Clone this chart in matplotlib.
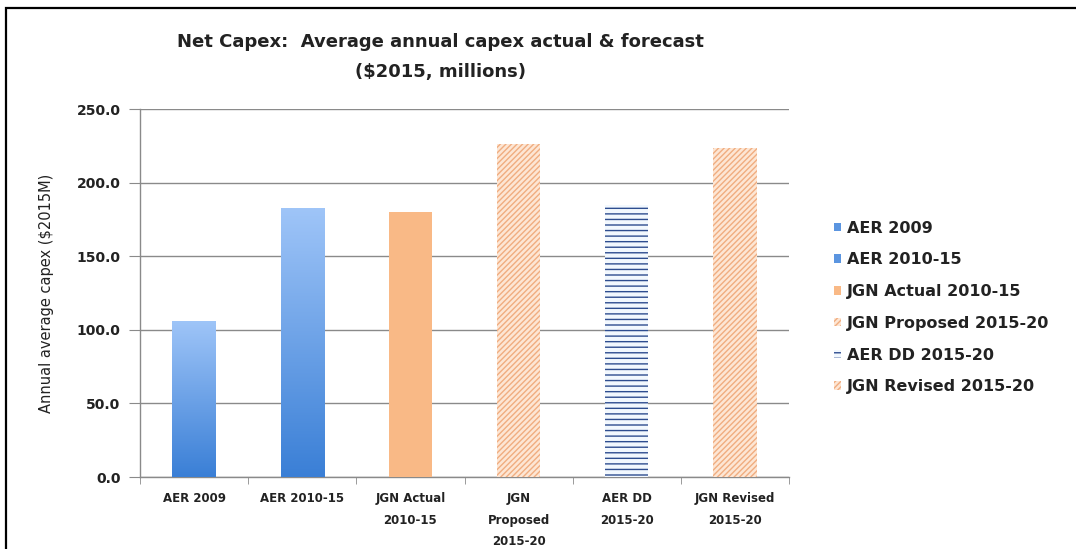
import matplotlib
matplotlib.use("Agg")
import matplotlib.pyplot as plt
import numpy as np
from matplotlib.patches import Rectangle
from matplotlib.colors import LinearSegmentedColormap

categories = ["AER 2009", "AER 2010-15", "JGN Actual\n2010-15", "JGN\nProposed\n2015-20",
              "AER DD\n2015-20", "JGN Revised\n2015-20"]
legend_labels = ["AER 2009", "AER 2010-15", "JGN Actual 2010-15", "JGN Proposed 2015-20",
                 "AER DD 2015-20", "JGN Revised 2015-20"]
values = [106.0, 182.5, 180.0, 226.5, 185.0, 223.5]
yticks = [0, 50, 100, 150, 200, 250]

plt.rcParams['font.family'] = ['DejaVu Sans']
plt.rcParams['hatch.linewidth'] = 1.0

fig = plt.figure(figsize=(10.76, 5.49), dpi=100)
ax = fig.add_axes([0.1301, 0.1311, 0.6032, 0.6703])

x = np.arange(len(categories))
w = 0.40

styles = [
    dict(kind="grad"),
    dict(kind="grad"),
    dict(kind="solid", fc="#f9b986"),
    dict(kind="hatch", fc="#fde6d4", ec="#f0ad80", hatch="//////"),
    dict(kind="hatch", fc="#f2f8fe", ec="#2e4d8f", hatch="---"),
    dict(kind="hatch", fc="#fde6d4", ec="#f0ad80", hatch="//////"),
]

cmap = LinearSegmentedColormap.from_list("bl", ["#3a7fd6", "#9fc5f8"])
handles = []
for i, (v, st) in enumerate(zip(values, styles)):
    if st["kind"] == "grad":
        b = ax.bar(x[i], v, w, color="none", edgecolor="none", zorder=3)[0]
        grad = np.linspace(0, 1, 256).reshape(-1, 1)
        im = ax.imshow(grad, cmap=cmap, origin="lower", aspect="auto",
                       extent=[x[i] - w / 2, x[i] + w / 2, 0, v], zorder=3)
        im.set_clip_path(b)
        h = Rectangle((0, 0), 1, 1, fc="#5b95e0", ec="none")
    elif st["kind"] == "solid":
        b = ax.bar(x[i], v, w, color=st["fc"], edgecolor="none", zorder=3)[0]
        h = b
    else:
        b = ax.bar(x[i], v, w, facecolor=st["fc"], edgecolor=st["ec"], hatch=st["hatch"],
                   linewidth=0, zorder=3)[0]
        h = b
    handles.append(h)

ax.set_xlim(-0.5, len(categories) - 0.5)
ax.set_ylim(0, 250)
ax.set_yticks(yticks)
ax.set_yticklabels([f"{t:.1f}" for t in yticks], fontsize=10, fontweight="bold", color="#222222")
ax.yaxis.grid(True, color="#8a8a8a", linewidth=1.0, zorder=0)
ax.set_axisbelow(True)
ax.tick_params(axis="y", length=8, color="#8a8a8a", pad=6)

ax.set_xticks(x)
ax.set_xticklabels(categories, fontsize=8.5, fontweight="bold", color="#222222", linespacing=1.85)
ax.tick_params(axis="x", length=0, pad=11)
ax.set_xticks(np.arange(-0.5, len(categories), 1.0), minor=True)
ax.tick_params(axis="x", which="minor", length=5, color="#8a8a8a")

for s in ["top", "right"]:
    ax.spines[s].set_visible(False)
for s in ["left", "bottom"]:
    ax.spines[s].set_color("#8a8a8a")
    ax.spines[s].set_linewidth(1.0)

ax.set_ylabel("Annual average capex ($2015M)", fontsize=10.5, color="#222222", labelpad=16)

fig.text(0.409, 0.924, "Net Capex:  Average annual capex actual & forecast",
         ha="center", va="center", fontsize=13, fontweight="bold", color="#222222")
fig.text(0.409, 0.868, "($2015, millions)", ha="center", va="center",
         fontsize=13, fontweight="bold", color="#222222")

leg = fig.legend(handles, legend_labels, loc="center left", bbox_to_anchor=(0.762, 0.44),
                 frameon=False, fontsize=11.5, handlelength=0.45, handleheight=0.45,
                 handletextpad=0.35, labelspacing=1.05)
for t in leg.get_texts():
    t.set_fontweight("bold")
    t.set_color("#222222")

frame = Rectangle((6 / 1076, -0.05), 1.2, 1 - 8 / 549 + 0.05, transform=fig.transFigure,
                  fill=False, edgecolor="black", linewidth=1.6, clip_on=False)
fig.patches.append(frame)

fig.savefig("out.png", dpi=100)
